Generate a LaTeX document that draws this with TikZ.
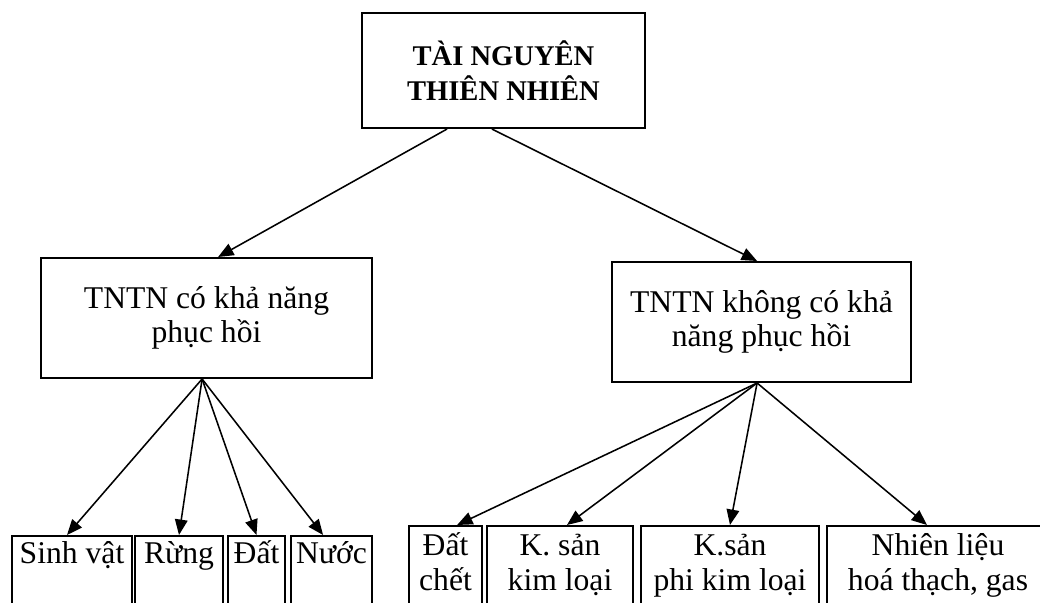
\documentclass[tikz,border=0pt]{standalone}
\usepackage{fontspec}
\setmainfont{Liberation Serif}
\usetikzlibrary{arrows.meta}

\tikzset{
	box/.style={draw, line width=1.4pt, align=center, inner sep=0pt, font=\fontsize{22.5}{24.5}\selectfont},
	leaf/.style={box, anchor=north, text height=#1, text depth=2.4cm},
	leaf/.default=0.7cm,
	link/.style={line width=1.1pt, arrows=-{Triangle[length=11pt,width=9pt]}},
}
\newcommand{\twolines}[2]{\begin{tabular}[t]{@{}c@{}}#1\\#2\end{tabular}}

\begin{document}
\begin{tikzpicture}[x=0.025cm, y=-0.025cm]
		\useasboundingbox (0,0) rectangle (1040,603);
		\clip (0,0) rectangle (1040,603);
		
		\node[box, minimum width=7.075cm, minimum height=2.875cm, font=\fontsize{20.3}{25}\selectfont\bfseries] (tntn) at (503.5,70.5) {TÀI NGUYÊN\\THIÊN NHIÊN};
		\node[box, minimum width=8.275cm, minimum height=3cm] (coph) at (206.5,318) {TNTN có khả năng\\phục hồi};
		\node[box, minimum width=7.475cm, minimum height=3cm] (khongph) at (761.5,322) {TNTN không có khả\\năng phục hồi};
		
		% co kha nang phuc hoi
		\node[leaf, minimum width=3cm] (sinhvat) at (72,535) {Sinh vật};
		\node[leaf, minimum width=2.2cm] (rung) at (179,535) {Rừng};
		\node[leaf, minimum width=1.425cm] (dat) at (256.5,535) {Đất};
		\node[leaf, minimum width=2.025cm] (nuoc) at (331.5,535) {Nước};
		
		% khong co kha nang phuc hoi
		\node[leaf=0.75cm, minimum width=1.825cm] (datchet) at (445.5,525) {\twolines{Đất}{chết}};
		\node[leaf=0.75cm, minimum width=3.65cm] (kimloai) at (560,525) {\twolines{K. sản}{kim loại}};
		\node[leaf=0.75cm, minimum width=4.45cm] (phikim) at (730,525) {\twolines{K.sản}{phi kim loại}};
		\node[leaf=0.75cm, minimum width=5.55cm] (nhienlieu) at (938,525) {\twolines{Nhiên liệu}{hoá thạch, gas}};
		
		\draw[link] ([xshift=-1.41cm]tntn.south) -- ([xshift=0.29cm]coph.north);
		\draw[link] ([xshift=-0.29cm]tntn.south) -- ([xshift=-0.11cm]khongph.north);
		
		\draw[link] ([xshift=-0.11cm]coph.south) -- ([xshift=-0.125cm]sinhvat.north);
		\draw[link] ([xshift=-0.11cm]coph.south) -- (rung.north);
		\draw[link] ([xshift=-0.11cm]coph.south) -- (dat.north);
		\draw[link] ([xshift=-0.11cm]coph.south) -- ([xshift=-0.21cm]nuoc.north);
		
		\draw[link] ([xshift=-0.11cm]khongph.south) -- ([xshift=0.29cm]datchet.north);
		\draw[link] ([xshift=-0.11cm]khongph.south) -- ([xshift=0.175cm]kimloai.north);
		\draw[link] ([xshift=-0.11cm]khongph.south) -- (phikim.north);
		\draw[link] ([xshift=-0.11cm]khongph.south) -- ([xshift=-0.275cm]nhienlieu.north);
		
\end{tikzpicture}
\end{document}
